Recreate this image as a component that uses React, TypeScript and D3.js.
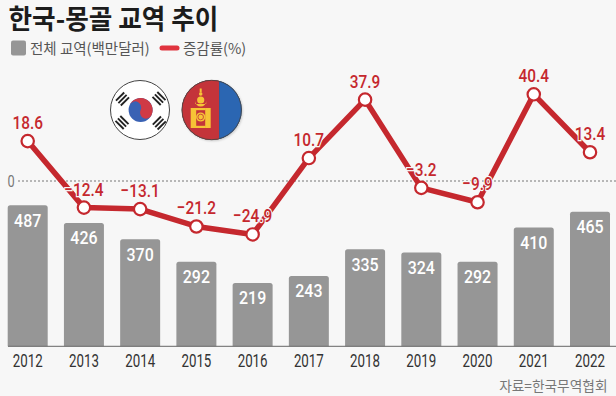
import React from "react";
import * as d3 from "d3";

const years = ["2012","2013","2014","2015","2016","2017","2018","2019","2020","2021","2022"];
const trade = [487,426,370,292,219,243,335,324,292,410,465];
const growth = [18.6,-12.4,-13.1,-21.2,-24.9,10.7,37.9,-3.2,-9.9,40.4,13.4];
const title = "한국-몽골 교역 추이";
const legendBar = "전체 교역(백만달러)";
const legendLine = "증감률(%)";
const source = "자료=한국무역협회";

const W = 616, H = 396;
const NUM = "'Roboto',sans-serif";
const KR = "'Noto Sans CJK KR',sans-serif";
const RED = "#c5282e";
const BG = "#f7f7f7";

const x = d3.scalePoint<string>().domain(years).range([27.7, 590]);
const yBar = d3.scaleLinear().domain([0, 487]).range([346.3, 205.3]);
const yLine = d3.scaleLinear().domain([0, 40.4]).range([181, 94.3]);
const barW = 40;
const lineGen = d3.line<number>().x((_, i) => x(years[i])!).y(d => yLine(d));
const fmt = (v: number) => (v < 0 ? "−" : "") + Math.abs(v).toFixed(1);

function barPath(xc: number, top: number, bottom: number, w: number, r: number) {
  const l = xc - w / 2, rt = xc + w / 2;
  const p = d3.path();
  p.moveTo(l, bottom);
  p.lineTo(l, top + r);
  p.quadraticCurveTo(l, top, l + r, top);
  p.lineTo(rt - r, top);
  p.quadraticCurveTo(rt, top, rt, top + r);
  p.lineTo(rt, bottom);
  p.closePath();
  return p.toString();
}

function Narrow({ x: tx, y: ty, k, children, ...rest }: any) {
  return (
    <text transform={`translate(${tx},${ty}) scale(${k},1)`} textAnchor="middle" fontFamily={NUM} {...rest}>{children}</text>
  );
}

function Trigram({ cx, cy, angle }: { cx: number; cy: number; angle: number }) {
  return (
    <g transform={`translate(${cx},${cy}) rotate(${angle})`}>
      {[-3.4, 0, 3.4].map(o => <rect key={o} x={-5.8} y={o - 0.95} width={11.6} height={1.9} fill="#222" />)}
    </g>
  );
}

function KoreaFlag({ cx, cy, r }: { cx: number; cy: number; r: number }) {
  const t = 12;
  const tx = cx + 0.6;
  const a = 0.45;
  const dx = Math.cos(a) * t, dy = Math.sin(a) * t;
  const x1 = tx - dx, y1 = cy - dy, x2 = tx + dx, y2 = cy + dy;
  return (
    <g>
      <circle cx={cx} cy={cy} r={r - 0.5} fill="#fff" stroke="#444" strokeWidth={1} />
      <circle cx={tx} cy={cy} r={t} fill="#3a62b4" />
      <path d={`M${x1},${y1} A${t},${t} 0 0 1 ${x2},${y2} A${t / 2},${t / 2} 0 0 1 ${tx},${cy} A${t / 2},${t / 2} 0 0 0 ${x1},${y1} Z`} fill="#cf3a45" />
      <Trigram cx={cx - 17.5} cy={cy - 11} angle={-45} />
      <Trigram cx={cx + 19} cy={cy - 11.5} angle={45} />
      <Trigram cx={cx - 18} cy={cy + 12.5} angle={45} />
      <Trigram cx={cx + 19.3} cy={cy + 13} angle={-45} />
    </g>
  );
}

function MongoliaFlag({ cx, cy, r }: { cx: number; cy: number; r: number }) {
  const Y = "#f6c436";
  const c = cx - 11;
  return (
    <g>
      <defs>
        <clipPath id="mn"><circle cx={cx} cy={cy} r={r} /></clipPath>
        <filter id="sh" x="-20%" y="-20%" width="140%" height="140%">
          <feDropShadow dx="1" dy="1" stdDeviation="1" floodColor="#000" floodOpacity="0.2" />
        </filter>
      </defs>
      <circle cx={cx} cy={cy} r={r} fill="#333" filter="url(#sh)" />
      <g clipPath="url(#mn)">
        <rect x={cx - r} y={cy - r} width={r + 7.5} height={2 * r} fill="#c4343a" />
        <rect x={cx + 7.5} y={cy - r} width={r} height={2 * r} fill="#2b66b2" />
      </g>
      <circle cx={cx} cy={cy} r={r - 0.3} fill="none" stroke="#444" strokeWidth={0.8} />
      <g fill={Y}>
        <rect x={c - 10} y={cy - 2} width={5.5} height={20} />
        <rect x={c + 4.5} y={cy - 2} width={5.5} height={20} />
        <rect x={c - 5} y={cy - 2} width={10} height={2.2} />
        <rect x={c - 5} y={cy + 15.8} width={10} height={2.2} />
        <circle cx={c} cy={cy + 7} r={4.6} />
        <circle cx={c} cy={cy - 10} r={3.6} />
        <path d={`M${c - 5.5},${cy - 9} A5.5,5.5 0 0 0 ${c + 5.5},${cy - 9} L${c + 5.5},${cy - 6} L${c - 5.5},${cy - 6} Z`} />
        <circle cx={c} cy={cy - 16} r={1.8} />
        <rect x={c - 1} y={cy - 21.5} width={2} height={4} />
      </g>
      <circle cx={c} cy={cy + 7} r={2.8} fill="none" stroke="#c4343a" strokeWidth={0.8} />
    </g>
  );
}

export default function App() {
  return (
    <svg width={W} height={H} viewBox={`0 0 ${W} ${H}`} style={{ position: "absolute", left: 0, top: 0, display: "block", background: BG }}>
      <text transform="translate(8.5,28.5) scale(0.95,1)" fontFamily={KR} fontWeight={700} fontSize={27} fill="#1c1c1c">{title}</text>

      <rect x={11} y={40.5} width={15} height={15} rx={2} fill="#969696" />
      <text x={30} y={53.5} fontFamily={KR} fontSize={14.5} fill="#555">{legendBar}</text>
      <line x1={162} x2={177} y1={48} y2={48} stroke="#e0343f" strokeWidth={5} strokeLinecap="round" />
      <text x={183} y={53.5} fontFamily={KR} fontSize={14.5} fill="#555">{legendLine}</text>

      <KoreaFlag cx={140} cy={110} r={30} />
      <MongoliaFlag cx={211.7} cy={110} r={30} />

      <Narrow x={11} y={187} k={0.8} fontSize={16} fill="#777">0</Narrow>
      <line x1={18} x2={W} y1={yLine(0)} y2={yLine(0)} stroke="#777" strokeWidth={1} strokeDasharray="2 2" />

      {trade.map((v, i) => (
        <g key={years[i]}>
          <path d={barPath(x(years[i])!, yBar(v), yBar(0), barW, 2.5)} fill="#969696" />
          <Narrow x={x(years[i])!} y={yBar(v) + 21.5} k={0.84} fontSize={19} fontWeight={500} fill="#fff">{v}</Narrow>
          <Narrow x={x(years[i])!} y={366.5} k={0.72} fontSize={18.5} fill="#333">{years[i]}</Narrow>
        </g>
      ))}
      <line x1={8} x2={W} y1={yBar(0)} y2={yBar(0)} stroke="#666" strokeWidth={1} />

      <path d={lineGen(growth) ?? ""} fill="none" stroke={RED} strokeWidth={5.5} strokeLinejoin="round" />
      {growth.map((v, i) => (
        <circle key={years[i]} cx={x(years[i])!} cy={yLine(v)} r={6.2} fill="#fff" stroke={RED} strokeWidth={2.2} />
      ))}
      {growth.map((v, i) => (
        <Narrow key={years[i]} x={x(years[i])!} y={yLine(v) - 12} k={0.81} fontSize={19} fontWeight={500}
          fill={RED} stroke={BG} strokeWidth={2.5} paintOrder="stroke">{fmt(v)}</Narrow>
      ))}

      <text x={607.5} y={391} textAnchor="end" fontFamily={KR} fontSize={13.7} fill="#777">{source}</text>
    </svg>
  );
}
